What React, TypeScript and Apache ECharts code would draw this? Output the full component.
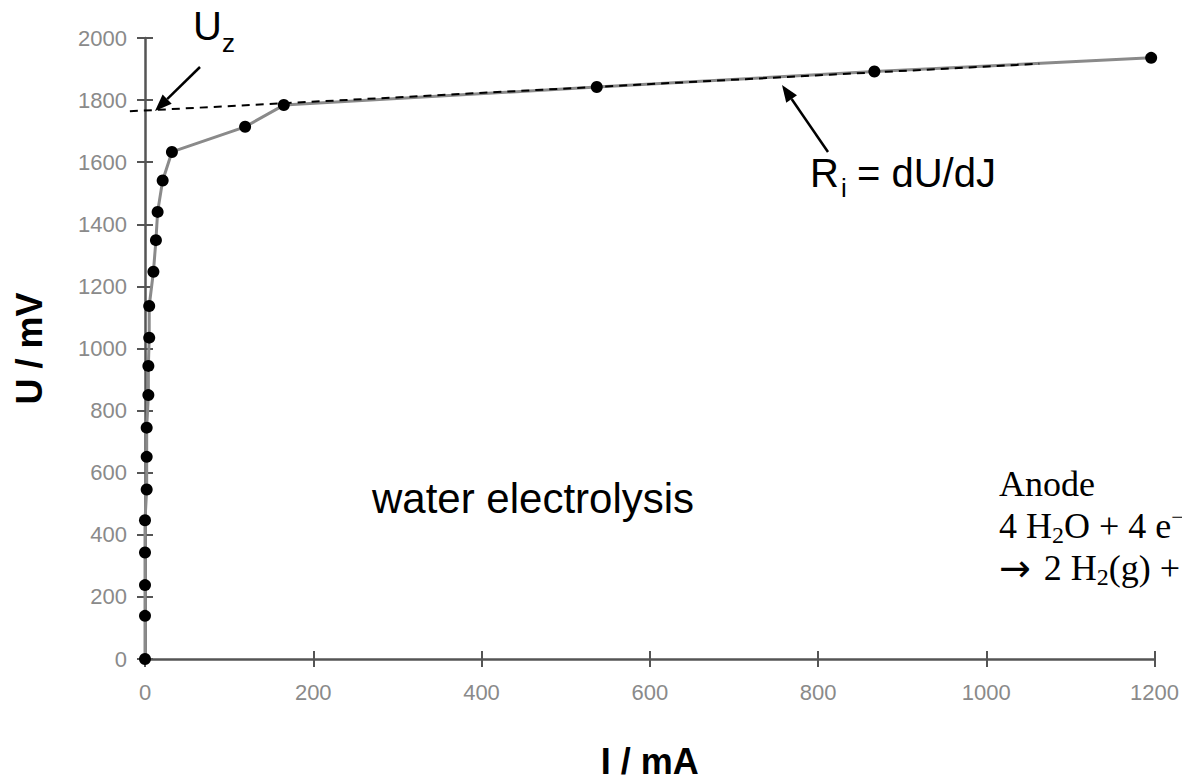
import React, { useEffect, useRef } from "react";
import * as echarts from "echarts";

// Measured data: current I (mA) and cell voltage U (mV)
const currentMA = [0, 0, 0, 0, 0, 2, 2, 2, 4, 4, 5, 5, 10, 13, 15, 21, 32, 119, 165, 537, 867, 1196];
const voltageMV = [0, 139, 238, 343, 447, 546, 651, 745, 850, 944, 1035, 1137, 1247, 1349, 1440, 1541, 1633, 1714, 1784, 1842, 1892, 1936];

// Tangent line (internal resistance), extrapolated to Uz
const tangentI = [-18, 1063];
const tangentU = [1764, 1917];

const X_MIN = 0, X_MAX = 1200, X_STEP = 200;
const Y_MIN = 0, Y_MAX = 2000, Y_STEP = 200;

const SANS = "'Liberation Sans', Arial, sans-serif";
const SERIF = "'Liberation Serif', 'Times New Roman', serif";

function arrow(x1: number, y1: number, x2: number, y2: number) {
  const dx = x2 - x1, dy = y2 - y1;
  const len = Math.hypot(dx, dy);
  const ux = dx / len, uy = dy / len;
  const hl = 17, hw = 6.5;
  const bx = x2 - ux * hl, by = y2 - uy * hl;
  const nx = -uy, ny = ux;
  return [
    { type: "line", shape: { x1, y1, x2: bx, y2: by }, style: { stroke: "#000", lineWidth: 2.5 } },
    {
      type: "polygon",
      shape: { points: [[x2, y2], [bx + nx * hw, by + ny * hw], [bx - nx * hw, by - ny * hw]] },
      style: { fill: "#000" },
    },
  ];
}

export default function App() {
  const ref = useRef<HTMLDivElement>(null);
  useEffect(() => {
    if (!ref.current) return;
    const chart = echarts.init(ref.current, undefined, { renderer: "svg" });
    const pts = currentMA.map((x, i) => [x, voltageMV[i]]);
    const axisLine = { show: true, lineStyle: { color: "#555", width: 2.5 } };
    const tickStyle = { color: "#555", width: 2 };
    const plain = (v: number) => String(v);
    const texts = [
      ...arrow(200, 67, 155, 111),
      ...arrow(828, 152, 782, 85),
      { type: "text", x: 193, y: 26, style: { text: "U", fontSize: 40, fontFamily: SANS, fill: "#000", verticalAlign: "middle" } },
      { type: "text", x: 222, y: 43, style: { text: "z", fontSize: 26, fontFamily: SANS, fill: "#000", verticalAlign: "middle" } },
      { type: "text", x: 810, y: 173, style: { text: "R", fontSize: 40, fontFamily: SANS, fill: "#000", verticalAlign: "middle" } },
      { type: "text", x: 841, y: 188, style: { text: "i", fontSize: 26, fontFamily: SANS, fill: "#000", verticalAlign: "middle" } },
      { type: "text", x: 857, y: 173, style: { text: "= dU/dJ", fontSize: 40, fontFamily: SANS, fill: "#000", verticalAlign: "middle" } },
      { type: "text", x: 372, y: 498, style: { text: "water electrolysis", fontSize: 42, fontFamily: SANS, fill: "#000", verticalAlign: "middle" } },
      {
        type: "text", x: 999, y: 463,
        style: {
          text: "{m|Anode}\n{m|4 H}{s|2}{m|O + 4 e}{p|\u2212}\n{a|\u2192}{m|2 H}{s|2}{m|(g) + 4 OH}{p|\u2212}",
          fontFamily: SERIF, fill: "#000", verticalAlign: "top", align: "left",
          rich: {
            m: { fontSize: 36, fontFamily: SERIF, lineHeight: 42, verticalAlign: "middle" },
            a: { fontSize: 38, fontFamily: "'DejaVu Sans', sans-serif", fontWeight: "normal", lineHeight: 42, verticalAlign: "middle", padding: [0, 13, 0, 0] },
            s: { fontSize: 24, fontFamily: SERIF, lineHeight: 24, verticalAlign: "bottom" },
            p: { fontSize: 24, fontFamily: SERIF, lineHeight: 24, verticalAlign: "top" },
          },
        },
      },
    ];
    chart.setOption({
      animation: false,
      backgroundColor: "#fff",
      grid: { left: 145, right: 27, top: 38, bottom: 108, containLabel: false },
      xAxis: [
        {
          type: "value", min: X_MIN, max: X_MAX, interval: X_STEP,
          axisLine, splitLine: { show: false },
          axisTick: { show: true, inside: false, length: 8, lineStyle: tickStyle },
          axisLabel: { color: "#8a8a8a", fontSize: 22, fontFamily: SANS, margin: 22, formatter: plain },
          name: "I / mA", nameLocation: "middle", nameGap: 84,
          nameTextStyle: { fontSize: 36, fontWeight: "bold", fontFamily: SANS, color: "#000" },
        },
        {
          type: "value", min: X_MIN, max: X_MAX, interval: X_STEP, position: "bottom",
          axisLine: { show: false }, splitLine: { show: false },
          axisTick: { show: true, inside: true, length: 8, lineStyle: tickStyle },
          axisLabel: { show: false },
        },
      ],
      yAxis: [
        {
          type: "value", min: Y_MIN, max: Y_MAX, interval: Y_STEP,
          axisLine, splitLine: { show: false },
          axisTick: { show: true, inside: false, length: 8, lineStyle: tickStyle },
          axisLabel: { color: "#8a8a8a", fontSize: 22, fontFamily: SANS, margin: 18, formatter: plain },
          name: "U / mV", nameLocation: "middle", nameGap: 98,
          nameTextStyle: { fontSize: 36, fontWeight: "bold", fontFamily: SANS, color: "#000" },
        },
        {
          type: "value", min: Y_MIN, max: Y_MAX, interval: Y_STEP, position: "left",
          axisLine: { show: false }, splitLine: { show: false },
          axisTick: { show: true, inside: true, length: 8, lineStyle: tickStyle },
          axisLabel: { show: false },
        },
      ],
      series: [
        {
          type: "line", data: pts, xAxisIndex: 0, yAxisIndex: 0,
          showSymbol: false, symbol: "none",
          lineStyle: { color: "#8a8a8a", width: 3 }, z: 2,
        },
        {
          type: "scatter", data: pts, xAxisIndex: 0, yAxisIndex: 0,
          symbol: "circle", symbolSize: 12, itemStyle: { color: "#000", opacity: 1 }, z: 4,
        },
      ],
      graphic: texts,
    });
    // Tangent (dashed) placed through the axes' scales; it extends left of the y axis to Uz
    const p1 = chart.convertToPixel({ xAxisIndex: 0, yAxisIndex: 0 }, [tangentI[0], tangentU[0]]) as number[];
    const p2 = chart.convertToPixel({ xAxisIndex: 0, yAxisIndex: 0 }, [tangentI[1], tangentU[1]]) as number[];
    chart.setOption({
      graphic: [
        ...texts,
        {
          type: "line", z: 100,
          shape: { x1: p1[0], y1: p1[1], x2: p2[0], y2: p2[1] },
          style: { stroke: "#000", lineWidth: 2, lineDash: [8, 6] },
        },
      ],
    });
    return () => chart.dispose();
  }, []);
  return (
    <div
      ref={ref}
      style={{ position: "fixed", left: 0, top: 0, width: 1182, height: 784, background: "#fff" }}
    />
  );
}
